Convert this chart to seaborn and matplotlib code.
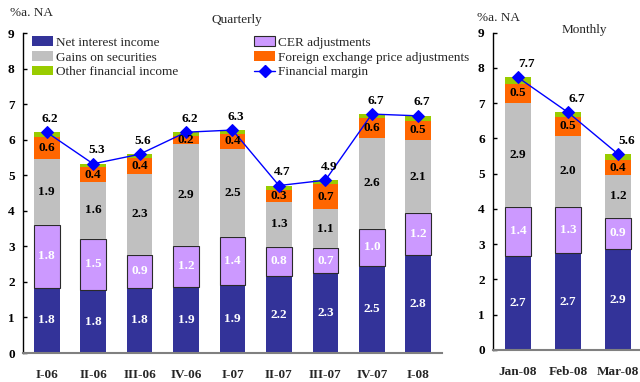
import numpy as np
import pandas as pd
import matplotlib
matplotlib.use("Agg")
import matplotlib.pyplot as plt
import seaborn as sns
from matplotlib.patches import Patch
from matplotlib.lines import Line2D

# Quarterly breakdown (% annualised of net assets)
quarters = ["I-06", "II-06", "III-06", "IV-06", "I-07", "II-07", "III-07", "IV-07", "I-08"]
q_net_interest = [1.83, 1.76, 1.83, 1.86, 1.91, 2.16, 2.26, 2.46, 2.76]
q_cer = [1.77, 1.46, 0.93, 1.16, 1.36, 0.83, 0.68, 1.03, 1.17]
q_securities = [1.86, 1.58, 2.28, 2.87, 2.47, 1.26, 1.10, 2.57, 2.06]
q_fx = [0.61, 0.42, 0.44, 0.22, 0.42, 0.34, 0.72, 0.56, 0.54]
q_other = [0.14, 0.10, 0.11, 0.10, 0.11, 0.12, 0.10, 0.10, 0.14]
q_margin = [6.21, 5.32, 5.59, 6.21, 6.27, 4.71, 4.86, 6.72, 6.67]

# Monthly breakdown
months = ["Jan-08", "Feb-08", "Mar-08"]
m_net_interest = [2.67, 2.74, 2.86]
m_cer = [1.40, 1.33, 0.89]
m_securities = [2.94, 2.01, 1.21]
m_fx = [0.54, 0.52, 0.42]
m_other = [0.18, 0.14, 0.18]
m_margin = [7.73, 6.74, 5.56]

series_names = ["Net interest income", "CER adjustments", "Gains on securities",
                "Foreign exchange price adjustments", "Other financial income"]
margin_name = "Financial margin"

C_NII = "#333399"
C_CER = "#CC99FF"
C_SEC = "#C0C0C0"
C_FX = "#FF6600"
C_OTH = "#99CC00"
C_LINE = "#0000FF"
CER_EDGE = "#2a2a2a"

sns.set_style("white")
plt.rcParams["font.family"] = ["Liberation Serif", "DejaVu Serif"]

W, H = 640, 382
fig = plt.figure(figsize=(W / 100, H / 100), dpi=100)


def fig_box(left, right, bottom_px, top_px):
    return [left / W, 1 - bottom_px / H, (right - left) / W, (bottom_px - top_px) / H]


ax_q = fig.add_axes(fig_box(23, 442, 353, 33))
ax_m = fig.add_axes(fig_box(493, 640, 350, 32.7))


def draw_panel(ax, cats, nii, cer, sec, fx, oth, margin, width, xlim, label_dx):
    n = len(cats)
    layers = [
        (series_names[0], nii, C_NII, "none", 0, "white"),
        (series_names[1], cer, C_CER, CER_EDGE, 0.8, "white"),
        (series_names[2], sec, C_SEC, "none", 0, "black"),
        (series_names[3], fx, C_FX, "none", 0, "black"),
        (series_names[4], oth, C_OTH, "none", 0, None),
    ]
    df = pd.DataFrame({"cat": cats})
    bottom = np.zeros(n)
    for name, vals, color, edge, lw, tcol in layers:
        vals = np.asarray(vals, dtype=float)
        df[name] = vals
        sns.barplot(data=df, x="cat", y=name, color=color, saturation=1,
                    width=width, errorbar=None, bottom=bottom.copy(),
                    edgecolor=edge, linewidth=lw, ax=ax)
        if tcol is not None:
            for i, v in enumerate(vals):
                ax.text(i, bottom[i] + v / 2, f"{v:.1f}", ha="center", va="center",
                        color=tcol, fontsize=9.5, fontweight="bold")
        bottom += vals

    xs = np.arange(n)
    sns.lineplot(x=xs, y=margin, ax=ax, color=C_LINE, linewidth=1, marker="D",
                 markersize=6, markeredgecolor=C_LINE, sort=False)
    for i, v in enumerate(margin):
        ax.annotate(f"{v:.1f}", (i, v), xytext=(label_dx, 7.5), textcoords="offset points",
                    ha="center", va="baseline", fontsize=9.5, fontweight="bold", color="black")

    ax.set_xlim(*xlim)
    ax.set_ylim(0, 9)
    ax.set_yticks(range(10))
    ax.set_xticks(range(n))
    ax.set_xticklabels(cats)
    ax.set_xlabel("")
    ax.set_ylabel("")
    for s in ("top", "right"):
        ax.spines[s].set_visible(False)
    ax.spines["left"].set_color("black")
    ax.spines["left"].set_linewidth(1.0)
    ax.spines["bottom"].set_color("#808080")
    ax.spines["bottom"].set_linewidth(1.5)
    ax.tick_params(axis="y", direction="in", length=3, width=1, pad=6,
                   labelsize=9.5, colors="black", left=True)
    ax.tick_params(axis="x", length=0, pad=11.5, labelsize=9.5)
    for lab in ax.get_yticklabels() + ax.get_xticklabels():
        lab.set_fontweight("bold")
    ax.patch.set_alpha(0)


draw_panel(ax_q, quarters, q_net_interest, q_cer, q_securities, q_fx, q_other, q_margin,
           width=0.553, xlim=(-0.51, 8.51), label_dx=2.5)
draw_panel(ax_m, months, m_net_interest, m_cer, m_securities, m_fx, m_other, m_margin,
           width=0.53, xlim=(-0.5, 2.44), label_dx=6.5)

# Titles and axis captions
fig.text(10 / W, 1 - 13.5 / H, "%a. NA", ha="left", va="center", fontsize=9.5)
fig.text(237 / W, 1 - 20.5 / H, "Quarterly", ha="center", va="center", fontsize=9.5)
fig.text(477 / W, 1 - 18 / H, "%a. NA", ha="left", va="center", fontsize=9.5)
fig.text(584.5 / W, 1 - 30 / H, "Monthly", ha="center", va="center", fontsize=9.5)

# Legend in two blocks
leg_kw = dict(frameon=False, fontsize=9.5, borderpad=0, borderaxespad=0,
              handlelength=1.6, handleheight=0.7, handletextpad=0.25,
              labelspacing=0.2, loc="upper left", bbox_transform=fig.transFigure)
h_left = [Patch(facecolor=C_NII, edgecolor="none", label=series_names[0]),
          Patch(facecolor=C_SEC, edgecolor="none", label=series_names[2]),
          Patch(facecolor=C_OTH, edgecolor="none", label=series_names[4])]
h_right = [Patch(facecolor=C_CER, edgecolor=CER_EDGE, linewidth=0.8, label=series_names[1]),
           Patch(facecolor=C_FX, edgecolor="none", label=series_names[3]),
           Line2D([], [], color=C_LINE, marker="D", markersize=6, linewidth=1, label=margin_name)]
leg1 = ax_q.legend(handles=h_left, bbox_to_anchor=(32 / W, 1 - 36.5 / H), **leg_kw)
ax_q.add_artist(leg1)
ax_q.legend(handles=h_right, bbox_to_anchor=(254 / W, 1 - 36.5 / H), **leg_kw)

fig.savefig("out.png", dpi=100)
